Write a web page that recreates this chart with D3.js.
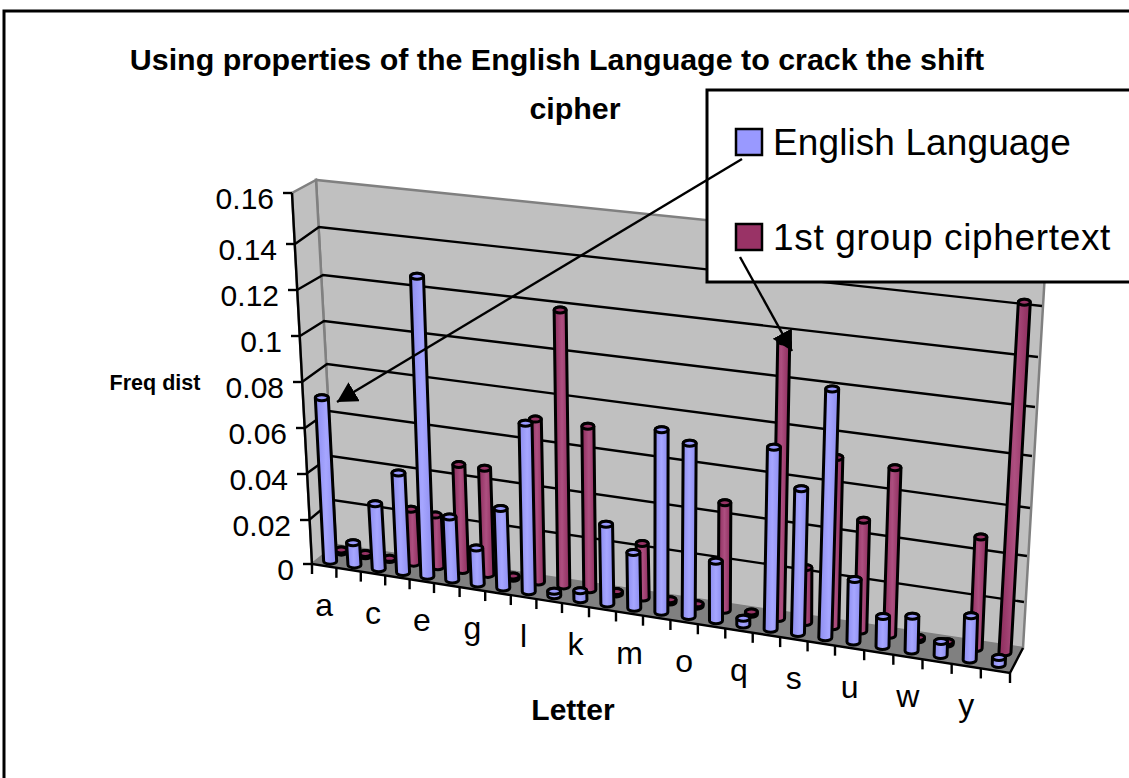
<!DOCTYPE html>
<html>
<head>
<meta charset="utf-8">
<script src="https://cdn.jsdelivr.net/npm/d3@7"></script>
<style>
  html, body { margin: 0; padding: 0; background: #fff; overflow: hidden; }
  svg { display: block; }
  text { font-family: "Liberation Sans", Arial, sans-serif; fill: #000; }
</style>
</head>
<body>
<svg id="drawing_region"></svg>
<script>
const letters = "abcdefghijklmnopqrstuvwxyz".split("");
const tick_labels = ["a", "c", "e", "g", "l", "k", "m", "o", "q", "s", "u", "w", "y"];
const y_ticks = [0, 0.02, 0.04, 0.06, 0.08, 0.1, 0.12, 0.14, 0.16];

const english = [0.072, 0.010, 0.029, 0.044, 0.130, 0.028, 0.016, 0.035, 0.073, 0.002, 0.004, 0.035, 0.0245,
                 0.078, 0.074, 0.026, 0.003, 0.077, 0.062, 0.104, 0.027, 0.013, 0.015, 0.006, 0.019, 0.003];
const cipher = [0.001, 0.001, 0.0005, 0.024, 0.023, 0.047, 0.047, 0.001, 0.071, 0.119, 0.071, 0.001, 0.024,
                0.001, 0.001, 0.047, 0.001, 0.117, 0.024, 0.072, 0.048, 0.071, 0.001, 0.001, 0.048, 0.143];

const series = [
    { name: "1st group ciphertext", values: cipher, depth: 0.72, rx: 6, color: "#993366", light: "#ad4f80", dark: "#8c2c5c", id: "g_cipher", spacing: 0.65 },
    { name: "English Language", values: english, depth: 0.25, rx: 6.5, color: "#9999ff", light: "#a6a6ff", dark: "#8c8cee", id: "g_english", spacing: 0.1 }
];

const width = 1129, height = 778;
const svg = d3.select("#drawing_region").attr("width", width).attr("height", height);

// corner columns of the 3d box, value -> pixel
const col = (xs, ys) => ({
    x: d3.scaleLinear().domain(y_ticks).range(xs),
    y: d3.scaleLinear().domain(y_ticks).range(ys)
});
const front_left = col([312, 309, 306, 305, 302, 300, 297, 295, 292], [564, 520, 474, 428, 382, 336, 290, 244, 193]);
const back_left = col([336, 333, 331, 329, 327, 324, 323, 319, 316], [545, 500, 456, 411, 364, 321, 275, 227, 180]);
const back_right = col([1023, 1024, 1027, 1030, 1032, 1035, 1038, 1042, 1046], [648, 602, 556, 508, 456, 407, 357, 306, 255]);
const front_right = col([1010, 1012, 1015, 1018, 1021, 1024, 1027, 1031, 1035], [673, 626, 579, 531, 479, 429, 378, 326, 274]);

// category position along the front edge of the floor
const xfront = d3.scaleLinear().domain([0, 5, 10, 13, 20, 26]).range([312, 434, 562, 643, 835, 1010]);
const across = d3.scaleLinear().domain([312, 1010]).range([0, 1]);

function project(i, depth, v) {
    const s = across(xfront(i));
    const lx = d3.interpolateNumber(front_left.x(v), back_left.x(v))(depth);
    const ly = d3.interpolateNumber(front_left.y(v), back_left.y(v))(depth);
    const rx = d3.interpolateNumber(front_right.x(v), back_right.x(v))(depth);
    const ry = d3.interpolateNumber(front_right.y(v), back_right.y(v))(depth);
    return [lx + (rx - lx) * s, ly + (ry - ly) * s];
}

const line = d3.line();
const poly = pts => line(pts) + "Z";
const vmax = y_ticks[y_ticks.length - 1];

// outer frame
svg.append("rect").attr("x", 4).attr("y", 11).attr("width", width + 20).attr("height", height + 20)
    .attr("fill", "#fff").attr("stroke", "#000").attr("stroke-width", 3);

// defs
const defs = svg.append("defs");
series.forEach(d => {
    const g = defs.append("linearGradient").attr("id", d.id);
    g.append("stop").attr("offset", "0%").attr("stop-color", d.dark);
    g.append("stop").attr("offset", "50%").attr("stop-color", d.light);
    g.append("stop").attr("offset", "100%").attr("stop-color", d.dark);
});
defs.append("marker").attr("id", "arrow_head")
    .attr("markerUnits", "userSpaceOnUse").attr("markerWidth", 24).attr("markerHeight", 24)
    .attr("refX", 20).attr("refY", 11).attr("orient", "auto")
    .append("path").attr("d", "M0,0L20,11L0,22Z").attr("fill", "#000");

// walls and floor
const box = svg.append("g");
box.append("path")
    .attr("d", poly([[back_left.x(0), back_left.y(0)], [back_left.x(vmax), back_left.y(vmax)],
                     [back_right.x(vmax), back_right.y(vmax)], [back_right.x(0), back_right.y(0)]]))
    .attr("fill", "#c0c0c0").attr("stroke", "#808080").attr("stroke-width", 2.5);
box.append("path")
    .attr("d", poly([[front_left.x(0), front_left.y(0)], [front_left.x(vmax), front_left.y(vmax)],
                     [back_left.x(vmax), back_left.y(vmax)], [back_left.x(0), back_left.y(0)]]))
    .attr("fill", "#c0c0c0").attr("stroke", "#808080").attr("stroke-width", 2.5);
box.append("path")
    .attr("d", poly([[front_left.x(0), front_left.y(0)], [back_left.x(0), back_left.y(0)],
                     [back_right.x(0), back_right.y(0)], [front_right.x(0), front_right.y(0)]]))
    .attr("fill", "#808080").attr("stroke", "#808080");

// gridlines
box.selectAll(".grid").data(y_ticks.slice(1, -1)).enter().append("path")
    .attr("d", v => line([[front_left.x(v), front_left.y(v)], [back_left.x(v), back_left.y(v)], [back_right.x(v), back_right.y(v)]]))
    .attr("fill", "none").attr("stroke", "#000").attr("stroke-width", 2.4);

// axes
const axes = svg.append("g").attr("stroke", "#000").attr("stroke-width", 2.4).attr("fill", "none");
axes.append("path").attr("d", line([[front_left.x(vmax), front_left.y(vmax)], [front_left.x(0), front_left.y(0)],
    [front_right.x(0), front_right.y(0)], [back_right.x(0), back_right.y(0)]]));
axes.selectAll(".ytick").data(y_ticks).enter().append("path")
    .attr("d", v => line([[front_left.x(v) - 9, front_left.y(v)], [front_left.x(v), front_left.y(v)]]));
axes.selectAll(".xtick").data(d3.range(27)).enter().append("path")
    .attr("d", i => { const p = project(i, 0, 0); return line([p, [p[0], p[1] + 10]]); });

svg.append("g").selectAll("text").data(y_ticks).enter().append("text")
    .attr("x", v => front_left.x(v) - 18)
    .attr("y", v => front_left.y(v) + 16)
    .attr("text-anchor", "end")
    .attr("font-size", 30)
    .text(v => v);

svg.append("g").selectAll("text").data(tick_labels).enter().append("text")
    .attr("x", (d, k) => project(k * 2 + 0.5, 0, 0)[0])
    .attr("y", (d, k) => project(k * 2 + 0.5, 0, 0)[1] + 50)
    .attr("text-anchor", "middle")
    .attr("font-size", 32)
    .text(d => d);

// bars, back row first
function cylinder(d, i) {
    const [bx, by] = project(i + 0.5, d.depth, 0);
    const [tx, ty] = project(i + 0.5, d.depth, d.values[i]);
    const r = d.rx, e = 3;
    return `M${bx - r},${by}L${tx - r},${ty}A${r},${e} 0 0 1 ${tx + r},${ty}L${bx + r},${by}A${r},${e} 0 0 1 ${bx - r},${by}Z`;
}
series.forEach(d => {
    const g = svg.append("g");
    letters.forEach((l, i) => {
        g.append("path").attr("d", cylinder(d, i))
            .attr("fill", `url(#${d.id})`).attr("stroke", "#000").attr("stroke-width", 3).attr("stroke-linejoin", "round");
        const top = project(i + 0.5, d.depth, d.values[i]);
        g.append("ellipse").attr("cx", top[0]).attr("cy", top[1]).attr("rx", d.rx).attr("ry", 3)
            .attr("fill", d.color).attr("stroke", "#000").attr("stroke-width", 3);
    });
});

// titles
svg.append("text").attr("x", 557).attr("y", 70).attr("text-anchor", "middle")
    .attr("font-size", 30.4).attr("font-weight", "bold")
    .text("Using properties of the English Language to crack the shift");
svg.append("text").attr("x", 575).attr("y", 119).attr("text-anchor", "middle")
    .attr("font-size", 30.4).attr("font-weight", "bold").text("cipher");
svg.append("text").attr("x", 155).attr("y", 390).attr("text-anchor", "middle")
    .attr("font-size", 21.5).attr("font-weight", "bold").text("Freq dist");
svg.append("text").attr("x", 573).attr("y", 720).attr("text-anchor", "middle")
    .attr("font-size", 30).attr("font-weight", "bold").text("Letter");

// legend
const legend = svg.append("g");
legend.append("rect").attr("x", 707).attr("y", 90).attr("width", 460).attr("height", 192)
    .attr("fill", "#fff").attr("stroke", "#000").attr("stroke-width", 3);
[series[1], series[0]].forEach((d, k) => {
    legend.append("rect").attr("x", 736).attr("y", 129 + k * 95).attr("width", 26).attr("height", 26)
        .attr("fill", d.color).attr("stroke", "#000").attr("stroke-width", 2.5);
    legend.append("text").attr("x", 773).attr("y", 155 + k * 95).attr("font-size", 37)
        .attr("letter-spacing", d.spacing).text(d.name);
});

// callout arrows
const arrows = [
    [[742, 159], [337, 402]],
    [[740, 257], [792, 351]]
];
svg.append("g").selectAll("path").data(arrows).enter().append("path")
    .attr("d", d => line(d))
    .attr("fill", "none").attr("stroke", "#000").attr("stroke-width", 2.4)
    .attr("marker-end", "url(#arrow_head)");
</script>
</body>
</html>
